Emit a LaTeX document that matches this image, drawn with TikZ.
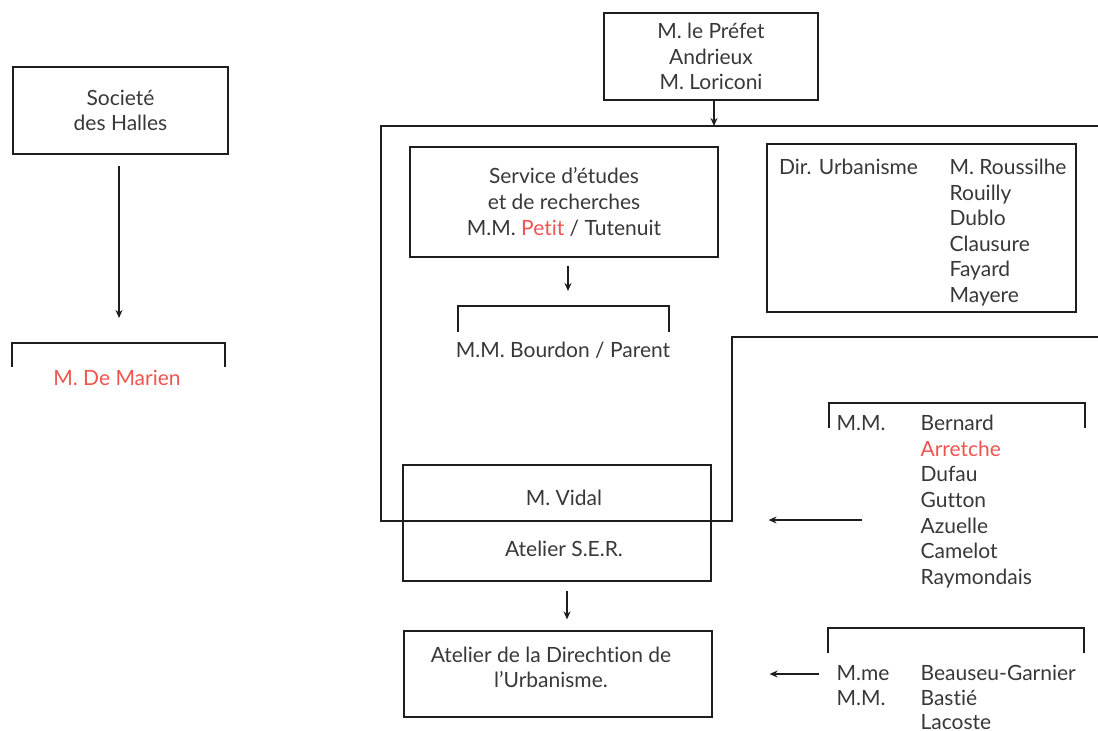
\documentclass[tikz,border=0pt]{standalone}
\usepackage{fontspec}
\setmainfont{Lato}[Ligatures=NoCommon]
\usetikzlibrary{arrows.meta}
\definecolor{orgink}{HTML}{383838}
\definecolor{orgred}{HTML}{EE5450}
\definecolor{orgline}{HTML}{1E1E1E}

\begin{document}
\begin{tikzpicture}[x=1pt, y=-1pt, line width=1.2pt, >={Stealth[length=8pt,width=7pt]},
  box/.style={draw=orgline, inner sep=0pt, align=center, text=orgink,
    font=\fontsize{21}{25.6}\selectfont},
  txt/.style={inner sep=0pt, text=orgink, text height=15pt, text depth=0pt,
    font=\fontsize{21}{25.6}\selectfont},
  multi/.style={inner sep=0pt, text=orgink, align=center,
    font=\fontsize{21}{25.6}\selectfont},
  link/.style={draw=orgline, ->}]
  \useasboundingbox (0,0) rectangle (1098,731);

  % left column
  \node[box, minimum width=215pt, minimum height=87pt] (societe) at (120.5,110.5) {Societé\\des Halles};
  \draw[orgline] (12,367) |- (225,343) -- (225,367);
  \coordinate (marienTop) at (119,343);
  \node[txt, text=orgred] (marien) at (117,378) {M. De Marien};
  \draw[link, shorten <=11pt, shorten >=25pt] (societe.south -| marienTop) -- (marienTop);

  % prefecture and its frame
  \node[box, minimum width=214pt, minimum height=87pt] (prefet) at (711,56.5) {M. le Préfet\\Andrieux\\M. Loriconi};
  \draw[orgline] (1098,126) -- (381,126) -- (381,521) -- (732,521) -- (732,337) -- (1098,337);
  \coordinate (frameTop) at (714,126);
  \draw[link] (prefet.south -| frameTop) -- (frameTop);

  % service d'etudes
  \node[box, minimum width=308pt, minimum height=110pt] (service) at (564,202) {Service d’études\\et de recherches\\M.M. \textcolor{orgred}{Petit} / Tutenuit};
  \draw[orgline] (458,332) |- (669,306) -- (669,332);
  \coordinate (bourdonTop) at (568,306);
  \node[txt] (bourdon) at (563,350) {M.M. Bourdon / Parent};
  \draw[link, shorten <=8pt, shorten >=15pt] (service.south -| bourdonTop) -- (bourdonTop);

  % direction de l'urbanisme
  \node[box, minimum width=309pt, minimum height=168pt] (dir) at (921.5,228) {};
  \node[txt, anchor=west] (dirlbl) at (778.5,167) {Dir. Urbanisme};
  \foreach \n [count=\i] in {M. Roussilhe, Rouilly, Dublo, Clausure, Fayard, Mayere}
    \node[txt, anchor=west] (dir\i) at (949,{167+25.6*(\i-1)}) {\n};

  % vidal / atelier S.E.R.
  \node[box, minimum width=308pt, minimum height=116pt] (vidal) at (557,523) {};
  \node[txt] (vidalname) at (564,498) {M. Vidal};
  \node[txt] (vidalser) at (564,549) {Atelier S.E.R.};

  % atelier de la direction
  \node[box, minimum width=308pt, minimum height=86pt] (atelier) at (558,674) {};
  \node[multi] (atelierlbl) at (551,667.5) {Atelier de la Direchtion de\\l’Urbanisme.};
  \draw[link, shorten <=9pt, shorten >=11pt] ([xshift=10pt]vidal.south) -- ([xshift=9pt]atelier.north);

  % architects
  \draw[orgline] (829,428) |- (1085,403) -- (1085,428);
  \node[txt, anchor=west] (mmlbl) at (836,423) {M.M.};
  \foreach \n/\c [count=\i] in {Bernard/orgink, Arretche/orgred, Dufau/orgink, Gutton/orgink,
      Azuelle/orgink, Camelot/orgink, Raymondais/orgink}
    \node[txt, anchor=west, text=\c] (mm\i) at (920,{423+25.67*(\i-1)}) {\n};
  \coordinate (mmArrow) at (862,520);
  \draw[link, shorten >=57pt] (mmArrow) -- (vidal.east |- mmArrow);

  % second group
  \draw[orgline] (828,653) |- (1084,628) -- (1084,653);
  \node[txt, anchor=west] (mmelbl) at (836,673) {M.me};
  \node[txt, anchor=west] (mm2lbl) at (836,697.5) {M.M.};
  \foreach \n [count=\i] in {Beauseu-Garnier, Bastié, Lacoste}
    \node[txt, anchor=west] (gr\i) at (920,{673+24.5*(\i-1)}) {\n};
  \coordinate (mmeArrow) at (819,674);
  \draw[link, shorten >=57pt] (mmeArrow) -- (atelier.east |- mmeArrow);
\end{tikzpicture}
\end{document}
